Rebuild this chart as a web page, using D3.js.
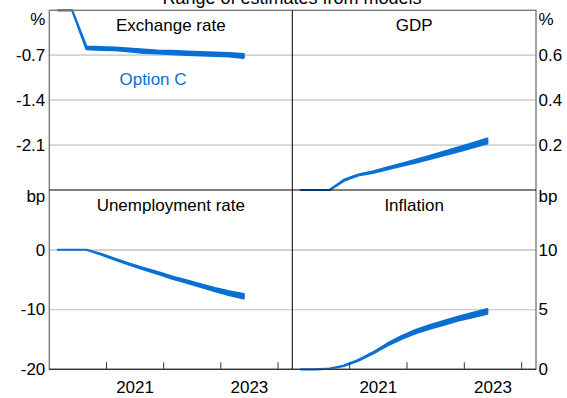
<!DOCTYPE html>
<html>
<head>
<meta charset="utf-8">
<script src="https://cdn.jsdelivr.net/npm/d3@7/dist/d3.min.js"></script>
<style>
  html, body { margin: 0; padding: 0; background: #fff; }
  svg { display: block; font-family: "Liberation Sans", Arial, sans-serif; }
</style>
</head>
<body>
<svg id="chart" width="567" height="398"></svg>
<script>
// Quarterly observations, 2020 Q1 to 2023 Q2
const quarters = ["2020Q1","2020Q2","2020Q3","2020Q4","2021Q1","2021Q2","2021Q3","2021Q4",
                  "2022Q1","2022Q2","2022Q3","2022Q4","2023Q1","2023Q2"];

// Range of model estimates (low / high) for each panel
const exchangeLow  = [0, 0, -0.605, -0.616, -0.622, -0.641, -0.663, -0.672, -0.683, -0.694, -0.704, -0.710, -0.719, -0.741];
const exchangeHigh = [0, 0, -0.565, -0.574, -0.580, -0.596, -0.612, -0.627, -0.632, -0.643, -0.653, -0.659, -0.668, -0.684];

const gdpLow  = [0, 0, 0, 0.041, 0.065, 0.076, 0.092, 0.107, 0.122, 0.138, 0.155, 0.172, 0.189, 0.207];
const gdpHigh = [0, 0, 0, 0.045, 0.069, 0.082, 0.100, 0.117, 0.134, 0.152, 0.171, 0.190, 0.209, 0.229];

const unempLow  = [0, 0, 0, -0.78, -1.65, -2.50, -3.29, -4.05, -4.85, -5.53, -6.23, -6.94, -7.60, -8.15];
const unempHigh = [0, 0, 0, -0.68, -1.49, -2.30, -3.05, -3.75, -4.49, -5.13, -5.77, -6.40, -6.96, -7.41];

const inflLow  = [0, 0, 0.05, 0.28, 0.72, 1.30, 1.97, 2.53, 3.01, 3.40, 3.74, 4.08, 4.37, 4.66];
const inflHigh = [0, 0, 0.05, 0.32, 0.78, 1.40, 2.13, 2.77, 3.29, 3.70, 4.06, 4.42, 4.73, 5.04];

// Axis ticks
const yearTicks = [2021, 2022, 2023, 2024];
const yearLabels = ["2021", "2023"];
const exchangeTicks = [-0.7, -1.4, -2.1];
const gdpTicks = [0.6, 0.4, 0.2];
const unempTicks = [0, -10, -20];
const inflTicks = [10, 5, 0];

const title = "Range of estimates from models";
const seriesLabel = "Option C";

// ---- layout ----
const L = 49.3, M = 292.3, R = 536, T = 10.3, MID = 190, B = 369.3;
const BLUE = "#0a6fd2";
const FONT = 17;

const svg = d3.select("#chart");

// Plot a quarter in the middle of its slot on the time axis
const quarterPos = q => +q.slice(0, 4) + (+q.slice(5) - 1) / 4 + 0.15;

// Tick formats with a plain hyphen for negatives
const fmt1 = d => d3.format(".1f")(d).replace("\u2212", "-");
const fmt0 = d => d3.format("d")(d).replace("\u2212", "-");

const panels = [
  { title: "Exchange rate", x0: L, x1: M, y0: T, y1: MID, domain: [-2.8, 0], ticks: exchangeTicks,
    unit: "%", side: "left", low: exchangeLow, high: exchangeHigh, fmt: fmt1 },
  { title: "GDP", x0: M, x1: R, y0: T, y1: MID, domain: [0, 0.8], ticks: gdpTicks,
    unit: "%", side: "right", low: gdpLow, high: gdpHigh, fmt: fmt1 },
  { title: "Unemployment rate", x0: L, x1: M, y0: MID, y1: B, domain: [-20, 10], ticks: unempTicks,
    unit: "bp", side: "left", low: unempLow, high: unempHigh, fmt: fmt0, zero: true, xAxis: true },
  { title: "Inflation", x0: M, x1: R, y0: MID, y1: B, domain: [0, 15], ticks: inflTicks,
    unit: "bp", side: "right", low: inflLow, high: inflHigh, fmt: fmt0, xAxis: true }
];

// Gridlines first so everything else sits on top
panels.forEach(p => {
  p.x = d3.scaleLinear().domain([2020, 2024.25]).range([p.x0, p.x1]);
  p.y = d3.scaleLinear().domain(p.domain).range([p.y1, p.y0]);
  svg.append("g").selectAll("line")
    .data(p.ticks.filter(t => t !== p.domain[0]))
    .join("line")
    .attr("x1", L).attr("x2", R)
    .attr("y1", d => p.y(d)).attr("y2", d => p.y(d))
    .attr("stroke", d => (p.zero && d === 0) ? "#444" : "#d2d2d2")
    .attr("stroke-width", d => (p.zero && d === 0) ? 1 : 1.3);
});

panels.forEach(p => {
  const g = svg.append("g");
  const rows = quarters.map((q, i) => ({ t: quarterPos(q), lo: p.low[i], hi: p.high[i] }));

  // Estimate band
  g.append("path")
    .datum(rows)
    .attr("d", d3.area().x(d => p.x(d.t)).y0(d => p.y(d.lo)).y1(d => p.y(d.hi)))
    .attr("fill", BLUE)
    .attr("stroke", BLUE)
    .attr("stroke-width", 2.2)
    .attr("stroke-linejoin", "round");

  // Panel title
  g.append("text")
    .attr("x", (p.x0 + p.x1) / 2)
    .attr("y", p.y0 + 20.7)
    .attr("text-anchor", "middle")
    .attr("font-size", FONT)
    .attr("fill", "#000")
    .text(p.title);

  // Y axis tick labels
  const lx = p.side === "left" ? L - 4 : R + 2.5;
  const anchor = p.side === "left" ? "end" : "start";
  g.append("g").selectAll("text")
    .data(p.ticks)
    .join("text")
    .attr("x", lx)
    .attr("y", d => p.y(d))
    .attr("dy", "0.35em")
    .attr("text-anchor", anchor)
    .attr("font-size", FONT)
    .text(d => p.fmt(d));

  // Unit label at the top of each panel
  g.append("text")
    .attr("x", lx)
    .attr("y", p.unit === "%" ? p.y0 + 14.7 : p.y0 + 11.5)
    .attr("text-anchor", anchor)
    .attr("font-size", FONT)
    .text(p.unit);

  if (p.xAxis) {
    g.append("g").selectAll("line")
      .data(yearTicks)
      .join("line")
      .attr("x1", d => p.x(d)).attr("x2", d => p.x(d))
      .attr("y1", B).attr("y2", B - 7)
      .attr("stroke", "#333").attr("stroke-width", 1);
    g.append("g").selectAll("text")
      .data(yearLabels)
      .join("text")
      .attr("x", d => p.x(+d + 0.5))
      .attr("y", B + 24)
      .attr("text-anchor", "middle")
      .attr("font-size", FONT)
      .text(d => d);
  }
});

// Frame and panel dividers
svg.append("rect")
  .attr("x", L).attr("y", T).attr("width", R - L).attr("height", B - T)
  .attr("fill", "none").attr("stroke", "#707070").attr("stroke-width", 1.3);
svg.append("line").attr("x1", M).attr("x2", M).attr("y1", T).attr("y2", B)
  .attr("stroke", "#000").attr("stroke-width", 1);
svg.append("line").attr("x1", L).attr("x2", R).attr("y1", MID).attr("y2", MID)
  .attr("stroke", "#000").attr("stroke-width", 1);
svg.append("line").attr("x1", L).attr("x2", R).attr("y1", B).attr("y2", B)
  .attr("stroke", "#333").attr("stroke-width", 1.2);

// Series label
svg.append("text")
  .attr("x", 153).attr("y", 85)
  .attr("text-anchor", "middle")
  .attr("font-size", FONT)
  .attr("fill", BLUE)
  .text(seriesLabel);

// Chart title (sits mostly above the visible area)
svg.append("text")
  .attr("x", 292).attr("y", 3.5)
  .attr("text-anchor", "middle")
  .attr("font-size", 18)
  .text(title);
</script>
</body>
</html>
